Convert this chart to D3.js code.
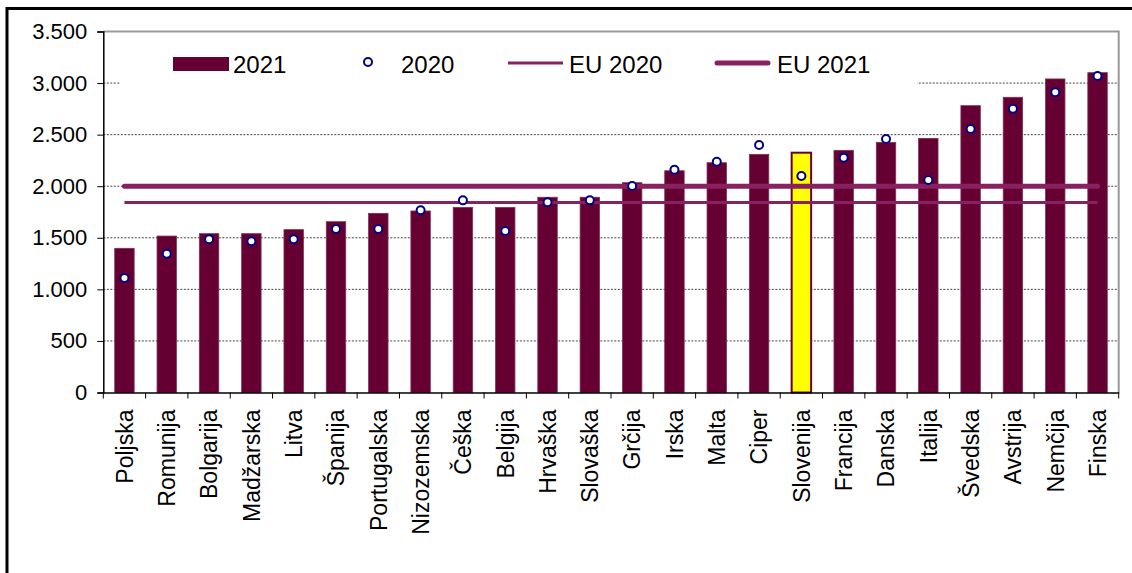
<!DOCTYPE html>
<html><head><meta charset="utf-8">
<script src="https://cdn.jsdelivr.net/npm/d3@7"></script>
<style>body{margin:0;background:#fff}svg{display:block;font-family:Arial,"Liberation Sans",sans-serif}</style>
</head><body>
<svg id="c" width="1132" height="573"></svg>
<script>
const categories = ["Poljska","Romunija","Bolgarija","Madžarska","Litva","Španija","Portugalska","Nizozemska","Češka","Belgija","Hrvaška","Slovaška","Grčija","Irska","Malta","Ciper","Slovenija","Francija","Danska","Italija","Švedska","Avstrija","Nemčija","Finska"];
const values2021 = [1398,1517,1540,1540,1579,1656,1737,1760,1795,1795,1893,1893,2034,2150,2228,2309,2325,2348,2425,2464,2781,2862,3040,3101];
const values2020 = [1110,1346,1485,1466,1485,1585,1585,1766,1863,1566,1844,1863,2002,2160,2238,2400,2099,2277,2458,2060,2555,2752,2911,3069];
const eu2020 = 1842;
const eu2021 = 2000;
const yTicks = [0,500,1000,1500,2000,2500,3000,3500];
const highlight = "Slovenija";
const legendLabels = ["2021","2020","EU 2020","EU 2021"];

const svg = d3.select("#c");
const L = 103.3, R = 1118.7, T = 31.5, B = 392.5;
const x = d3.scaleBand().domain(categories).range([L, R]).padding(0);
const y = d3.scaleLinear().domain([0, 3500]).range([B, T]);
const bw = x.bandwidth() * 0.46;
const loc = d3.formatLocale({decimal: ",", thousands: ".", grouping: [3], currency: ["", "€"]});
const fmt = loc.format(",d");
const barColor = "#660033", lineColor = "#87215F", dotColor = "#000080";

// outer frame
svg.append("rect").attr("x", 7).attr("y", 8.5).attr("width", 1300).attr("height", 800)
  .attr("fill", "none").attr("stroke", "#000").attr("stroke-width", 3);

// gridlines
svg.append("g").selectAll("line").data(yTicks.filter(d => d > 0 && d < 3500)).join("line")
  .attr("x1", L).attr("x2", R).attr("y1", d => y(d)).attr("y2", d => y(d))
  .attr("stroke", "#444").attr("stroke-width", 1).attr("stroke-dasharray", "2,1.5");

// plot border (top/right gray)
svg.append("path").attr("d", `M${L},${T} H${R} V${B}`).attr("fill", "none")
  .attr("stroke", "#999").attr("stroke-width", 2);

// bars
svg.append("g").selectAll("rect").data(categories).join("rect")
  .attr("x", d => x(d) + (x.bandwidth() - bw) / 2)
  .attr("y", (d, i) => y(values2021[i]))
  .attr("width", bw)
  .attr("height", (d, i) => B - y(values2021[i]))
  .attr("fill", d => d === highlight ? "#FFFF00" : barColor)
  .attr("stroke", d => d === highlight ? barColor : "#7d3358")
  .attr("stroke-width", d => d === highlight ? 2 : 0.8);

// y axis
const yAxis = d3.axisLeft(y).tickValues(yTicks).tickFormat(d => fmt(d)).tickSize(6).tickPadding(10);
const gy = svg.append("g").attr("transform", `translate(${L},0)`).call(yAxis);
gy.select(".domain").attr("stroke", "#000").attr("stroke-width", 1.5);
gy.selectAll(".tick line").attr("stroke", "#000");
gy.selectAll(".tick text").attr("font-size", 22).attr("fill", "#000").attr("font-family", "Arial, 'Liberation Sans', sans-serif");

// x axis
const xAxis = d3.axisBottom(x).tickSize(0).tickPadding(0);
const gx = svg.append("g").attr("transform", `translate(0,${B})`).call(xAxis);
gx.select(".domain").attr("stroke", "#000").attr("stroke-width", 1.5);
gx.selectAll(".tick text")
  .attr("font-size", 23).attr("fill", "#000").attr("font-family", "Arial, 'Liberation Sans', sans-serif")
  .attr("text-anchor", "end").attr("transform", "rotate(-90)")
  .attr("x", -17).attr("y", 0).attr("dy", "0.36em");
// boundary ticks
const bounds = d3.range(categories.length + 1).map(i => L + i * x.step());
svg.append("g").selectAll("line").data(bounds).join("line")
  .attr("x1", d => d).attr("x2", d => d).attr("y1", B).attr("y2", B + 6)
  .attr("stroke", "#000").attr("stroke-width", 1);

// EU lines
const x0 = x(categories[0]) + x.bandwidth() / 2, x1 = x(categories[categories.length - 1]) + x.bandwidth() / 2;
svg.append("line").attr("x1", x0).attr("x2", x1).attr("y1", y(eu2020)).attr("y2", y(eu2020))
  .attr("stroke", lineColor).attr("stroke-width", 3);
svg.append("line").attr("x1", x0).attr("x2", x1).attr("y1", y(eu2021)).attr("y2", y(eu2021))
  .attr("stroke", lineColor).attr("stroke-width", 5).attr("stroke-linecap", "round");

// 2020 dots
svg.append("g").selectAll("circle").data(categories).join("circle")
  .attr("cx", d => x(d) + x.bandwidth() / 2)
  .attr("cy", (d, i) => y(values2020[i]))
  .attr("r", 4).attr("fill", "#fff").attr("stroke", dotColor).attr("stroke-width", 2);

// legend
const lg = svg.append("g");
lg.append("rect").attr("x", 120).attr("y", 40).attr("width", 797).attr("height", 48).attr("fill", "#fff");
const ly = 64;
lg.append("rect").attr("x", 173).attr("y", 57).attr("width", 56).attr("height", 14).attr("fill", barColor);
lg.append("text").attr("x", 233).attr("y", ly).attr("dy", "0.36em").attr("font-size", 24).text(legendLabels[0]);
lg.append("circle").attr("cx", 368).attr("cy", 62).attr("r", 4).attr("fill", "#fff").attr("stroke", dotColor).attr("stroke-width", 2);
lg.append("text").attr("x", 401).attr("y", ly).attr("dy", "0.36em").attr("font-size", 24).text(legendLabels[1]);
lg.append("line").attr("x1", 508).attr("x2", 563).attr("y1", 63).attr("y2", 63).attr("stroke", lineColor).attr("stroke-width", 3);
lg.append("text").attr("x", 569).attr("y", ly).attr("dy", "0.36em").attr("font-size", 24).text(legendLabels[2]);
lg.append("line").attr("x1", 717).attr("x2", 768).attr("y1", 63).attr("y2", 63).attr("stroke", lineColor).attr("stroke-width", 5).attr("stroke-linecap", "round");
lg.append("text").attr("x", 777).attr("y", ly).attr("dy", "0.36em").attr("font-size", 24).text(legendLabels[3]);
</script>
</body></html>
